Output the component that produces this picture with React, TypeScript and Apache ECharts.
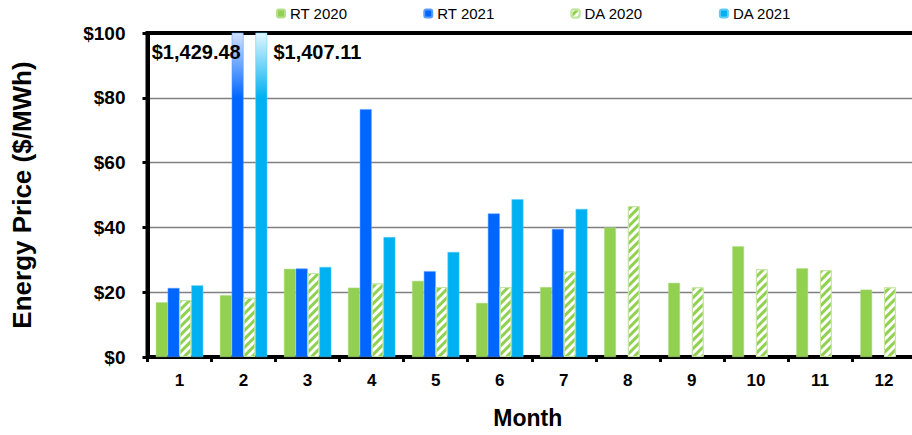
import React, { useEffect, useRef } from "react";
import * as echarts from "echarts";

const months = ["1", "2", "3", "4", "5", "6", "7", "8", "9", "10", "11", "12"];
const rt2020 = [16.9, 19.1, 27.2, 21.4, 23.5, 16.7, 21.6, 40.0, 22.9, 34.2, 27.4, 20.8];
const rt2021 = [21.3, 1429.48, 27.3, 76.5, 26.5, 44.3, 39.5, null, null, null, null, null];
const da2020 = [17.6, 18.3, 25.9, 22.7, 21.6, 21.6, 26.4, 46.6, 21.5, 27.1, 26.8, 21.5];
const da2021 = [22.1, 1407.11, 27.8, 37.0, 32.4, 48.7, 45.7, null, null, null, null, null];
const yMax = 100;

const FONT = "'Liberation Sans', Arial, sans-serif";

function fmtMoney(v: number) {
  return "$" + v.toLocaleString("en-US", { minimumFractionDigits: 2, maximumFractionDigits: 2 });
}

function withOverflow(values: (number | null)[], color: string, pale: string, labelPos: number[], align: string) {
  return values.map((v) => {
    if (v !== null && v > yMax) {
      return {
        value: v,
        itemStyle: {
          color: new echarts.graphic.LinearGradient(0, 0, 0, 1, [
            { offset: 0, color: pale },
            { offset: 0.2, color: color },
            { offset: 1, color: color },
          ]),
        },
        label: {
          show: true,
          position: labelPos,
          align: align,
          verticalAlign: "middle",
          formatter: (p: any) => fmtMoney(p.value),
          fontFamily: FONT,
          fontWeight: "bold",
          fontSize: 20,
          color: "#000",
        },
      };
    }
    return v;
  });
}

export default function App() {
  const ref = useRef<HTMLDivElement>(null);
  useEffect(() => {
    if (!ref.current) return;
    const chart = echarts.init(ref.current, null, { renderer: "svg" });
    const option: any = {
      animation: false,
      backgroundColor: "#fff",
      textStyle: { fontFamily: FONT },
      legend: {
        left: 271,
        top: 1,
        itemWidth: 8,
        itemHeight: 8,
        itemGap: 76,
        textStyle: { fontFamily: FONT, fontSize: 15, color: "#000" },
        data: ["RT 2020", "RT 2021", "DA 2020", "DA 2021"],
      },
      grid: {
        left: 147.5,
        top: 33,
        bottom: 78,
        right: -4,
        outerBoundsMode: "none",
        show: true,
        borderColor: "#000",
        borderWidth: 4,
      },
      xAxis: {
        type: "category",
        data: months,
        name: "Month",
        nameLocation: "middle",
        nameGap: 49,
        nameTextStyle: { fontFamily: FONT, fontWeight: "bold", fontSize: 23, color: "#000", padding: [0, 8, 0, 0] },
        axisLine: { lineStyle: { color: "#000", width: 4 } },
        axisTick: { show: true, length: 5, lineStyle: { color: "#000", width: 3 } },
        axisLabel: { fontFamily: FONT, fontWeight: "bold", fontSize: 17, color: "#000", margin: 15 },
      },
      yAxis: {
        type: "value",
        min: 0,
        max: yMax,
        interval: 20,
        name: "Energy Price ($/MWh)",
        nameLocation: "middle",
        nameGap: 113,
        nameTextStyle: { fontFamily: FONT, fontWeight: "bold", fontSize: 26, color: "#000" },
        axisLine: { show: true, lineStyle: { color: "#000", width: 4 } },
        axisTick: { show: true, length: 5, lineStyle: { color: "#000", width: 3 } },
        axisLabel: {
          fontFamily: FONT,
          fontWeight: "bold",
          fontSize: 19,
          color: "#000",
          margin: 22,
          formatter: (v: number) => "$" + v,
        },
        splitLine: { show: true, lineStyle: { color: "#000", width: 1.3, type: [1, 1] } },
      },
      series: [
        {
          name: "RT 2020",
          type: "bar",
          data: rt2020,
          barGap: "0%",
          barCategoryGap: "26%",
          itemStyle: { color: "#92d050", borderColor: "#b5e08c", borderWidth: 0.5 },
        },
        {
          name: "RT 2021",
          type: "bar",
          data: withOverflow(rt2021, "#0066ff", "#d2e2ff", [9, 19], "right"),
          itemStyle: { color: "#0066ff", borderColor: "#5c9cff", borderWidth: 0.5 },
        },
        {
          name: "DA 2020",
          type: "bar",
          data: da2020,
          itemStyle: {
            color: "#92d050",
            borderColor: "#c2e6a0",
            borderWidth: 1,
            decal: {
              symbol: "rect",
              symbolSize: 1,
              dashArrayX: [1, 0],
              dashArrayY: [2.5, 2.5],
              rotation: -Math.PI / 4,
              color: "#ffffff",
            },
          },
        },
        {
          name: "DA 2021",
          type: "bar",
          data: withOverflow(da2021, "#00b0f0", "#e2f7ff", [18, 19], "left"),
          itemStyle: { color: "#00b0f0", borderColor: "#5ccdf5", borderWidth: 0.5 },
        },
      ],
    };
    chart.setOption(option);
    return () => chart.dispose();
  }, []);
  return (
    <div
      ref={ref}
      style={{ position: "fixed", left: 0, top: 0, width: 912, height: 435 }}
    />
  );
}
